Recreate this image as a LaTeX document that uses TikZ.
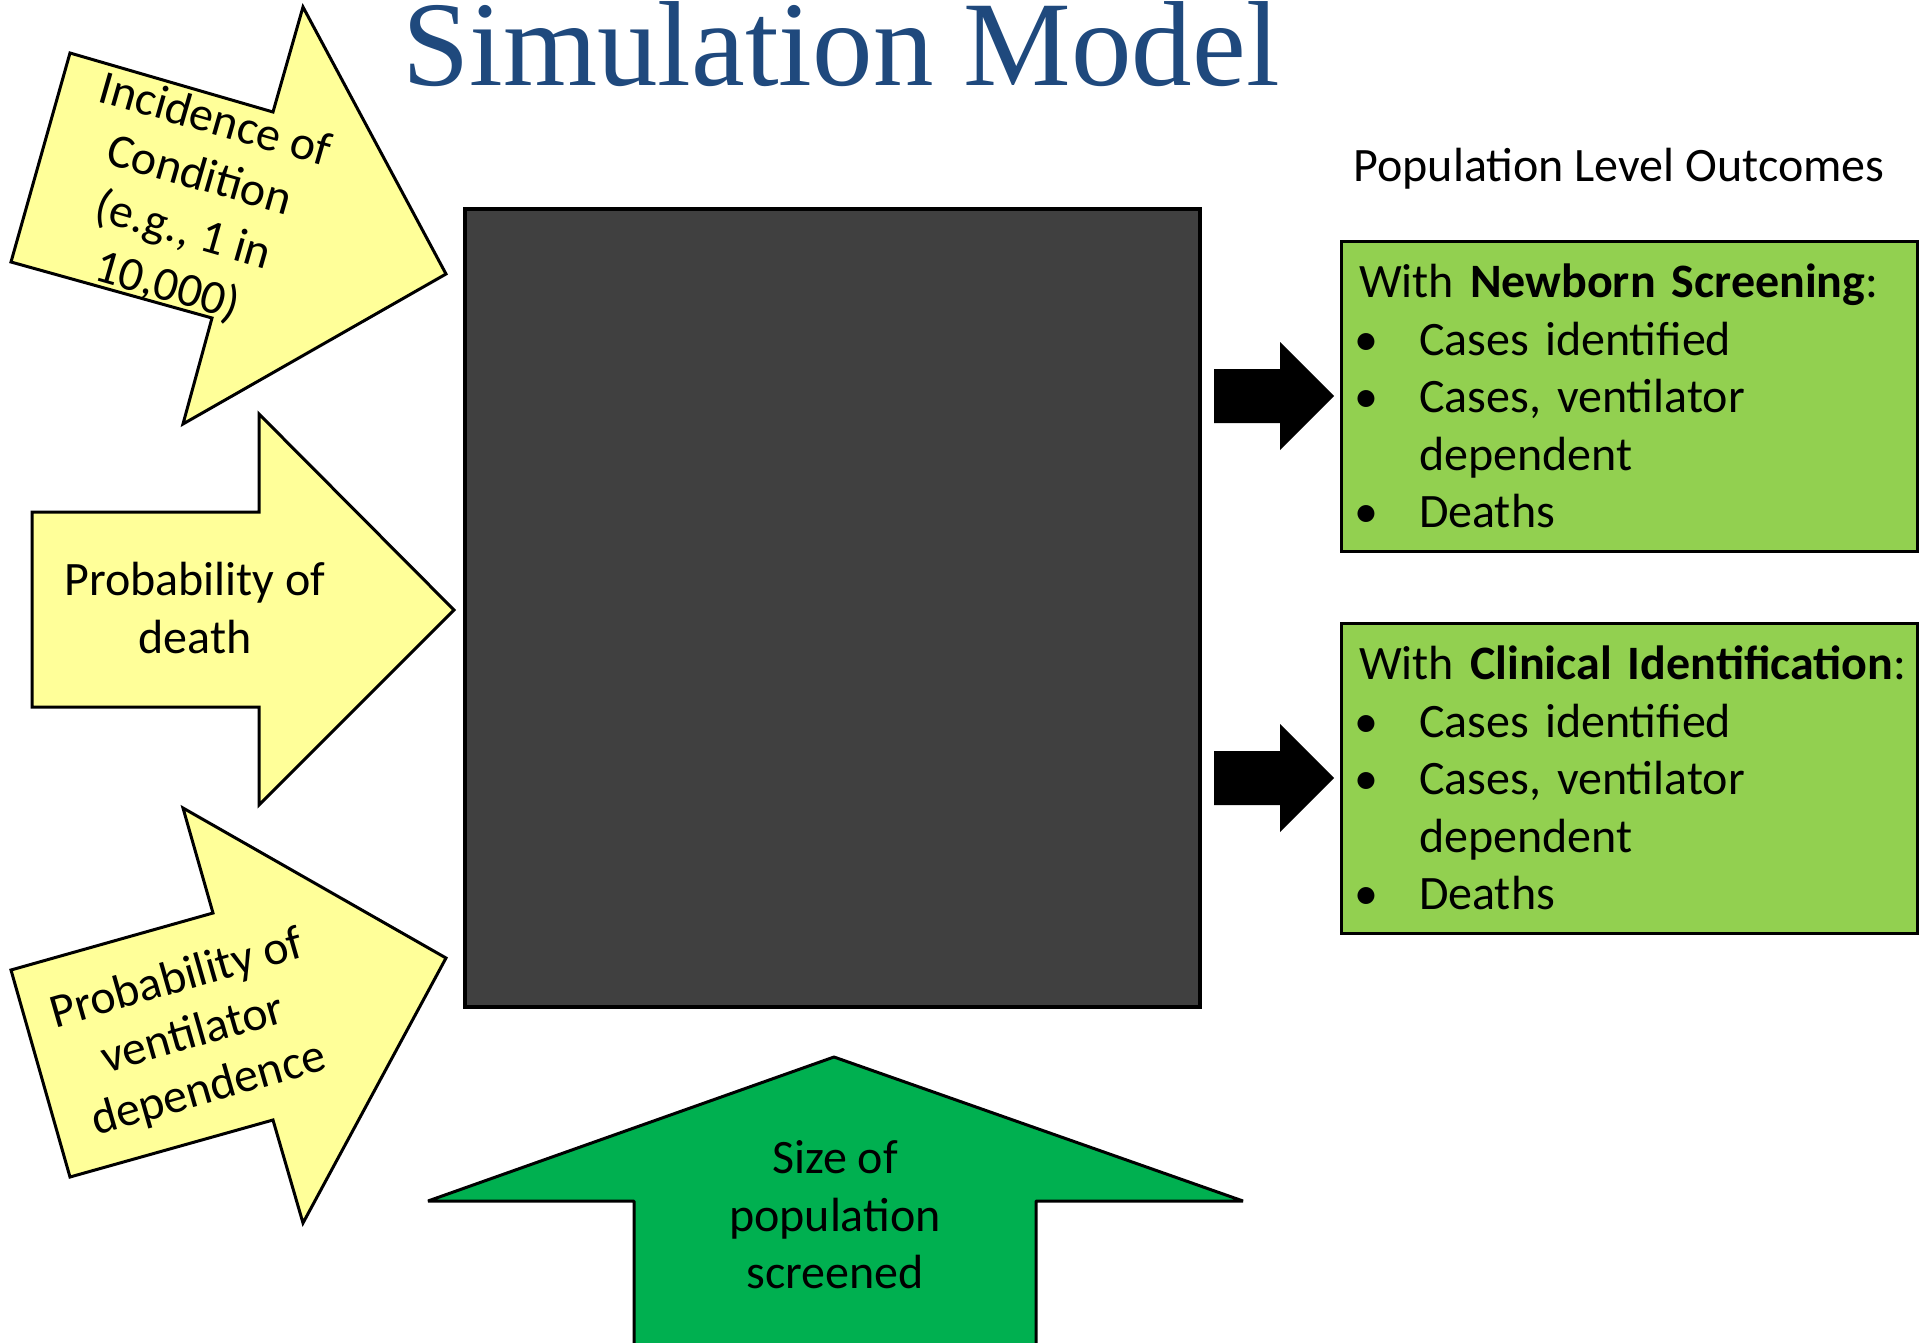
\documentclass[tikz,border=0pt]{standalone}
\usepackage{fontspec}
\setmainfont{Carlito}
\newfontfamily\titlefont{Liberation Serif}

\definecolor{titleblue}{RGB}{31,73,125}
\definecolor{inputyellow}{RGB}{255,255,153}
\definecolor{popgreen}{RGB}{0,176,80}
\definecolor{outgreen}{RGB}{146,208,80}
\definecolor{modelgrey}{RGB}{64,64,64}

\tikzset{
  inarrow/.style={draw=black, line width=1.5pt, line join=miter, fill=inputyellow},
  inlabel/.style={align=center, inner sep=0pt, font=\fontsize{24}{28.75}\selectfont},
  outbox/.style={draw=black, line width=1.5pt, fill=outgreen, anchor=north west, outer sep=0pt,
    minimum height=155pt, text width=270pt, inner xsep=9pt, align=left,
    font=\fontsize{24}{28.75}\selectfont},
}
\newcommand{\outitem}{\makebox[30pt][l]{\hspace*{-2.5pt}\textbullet}}

\begin{document}
\begin{tikzpicture}[x=0.5pt,y=-0.5pt]
  \useasboundingbox (0,0) rectangle (1921,1343);
  \fill[white] (0,0) rectangle (1921,1343);
  \clip (0,0) rectangle (1921,1343);

  % Titulo
  \node[anchor=base, font=\titlefont\fontsize{60.5}{70}\selectfont, text=titleblue, inner sep=0pt]
    (title) at (841,86) {Simulation Model};

  % Caja del modelo
  \node[draw=black, line width=2pt, fill=modelgrey, anchor=north west, outer sep=0pt,
    minimum width=367.5pt, minimum height=399pt] (model) at (465,209) {};

  % Flechas de entrada (amarillas)
  \draw[inarrow] (70,53) -- (273,112) -- (303,7) -- (446,274) -- (183,424) -- (212,318) -- (11,262) -- cycle;
  \node[inlabel, rotate=-16] (incidence) at (191,204) {Incidence of\\Condition\\(e.g., 1 in\\10,000)};

  \draw[inarrow] (32,512) -- (259,512) -- (259,414) -- (454,610) -- (259,805) -- (259,707) -- (32,707) -- cycle;
  \node[inlabel] (death) at (195,608) {Probability of\\death};

  \draw[inarrow] (11,970) -- (213,913) -- (183,808) -- (446,958) -- (303,1223) -- (273,1120) -- (70,1177) -- cycle;
  \node[inlabel, rotate=16] (ventilator) at (193,1035) {Probability of\\ventilator\\dependence};

  % Flecha de poblacion (verde)
  \draw[inarrow, fill=popgreen, line join=bevel] (634,1360) -- (634,1201) -- (428,1201) -- (834,1057) -- (1243,1201) -- (1036,1201) -- (1036,1360) -- cycle;
  \node[inlabel] (popsize) at (835,1215) {Size of\\population\\screened};

  % Flechas de salida (negras)
  \foreach \yc in {396,778}
    \fill[black] (1214,\yc-27) -- (1280,\yc-27) -- (1280,\yc-54) -- (1334,\yc) -- (1280,\yc+54) -- (1280,\yc+27) -- (1214,\yc+27) -- cycle;

  % Resultados
  \node[anchor=base, inner sep=0pt, font=\fontsize{24}{28.75}\selectfont] (outcomes) at (1619,181.5) {Population Level Outcomes};

  \node[outbox] (nbs) at (1341,241) {\mbox{With \textbf{Newborn Screening}:}\\
    \outitem Cases identified\\
    \outitem Cases, ventilator\\
    \hspace*{30pt}dependent\\
    \outitem Deaths};

  \node[outbox] (clinical) at (1341,623) {\mbox{With \textbf{Clinical Identification}:}\\
    \outitem Cases identified\\
    \outitem Cases, ventilator\\
    \hspace*{30pt}dependent\\
    \outitem Deaths};
\end{tikzpicture}
\end{document}
